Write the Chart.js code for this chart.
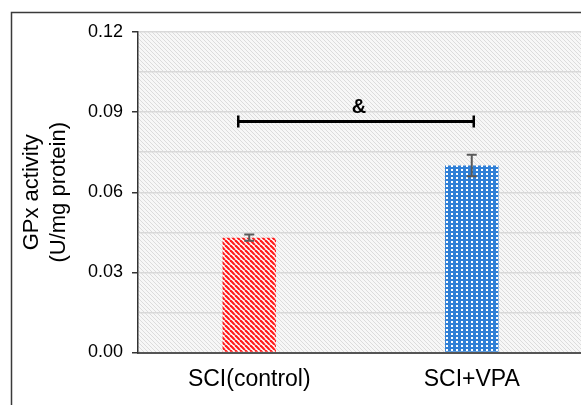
<!DOCTYPE html>
<html>
<head>
<meta charset="utf-8">
<script src="https://cdn.jsdelivr.net/npm/chart.js@4/dist/chart.umd.min.js"></script>
<style>
html,body{margin:0;padding:0;background:#fff;overflow:hidden;}
#wrap{position:relative;width:600px;height:405px;}
</style>
</head>
<body>
<div id="wrap"><canvas id="c" width="600" height="405"></canvas></div>
<script>
// ---- data ----
const categories = ["SCI(control)", "SCI+VPA"];
const values = [0.043, 0.070];
const errors = [0.0012, 0.004];
const yTickValues = [0, 0.03, 0.06, 0.09, 0.12];
const yTitle = ["GPx activity", "(U/mg protein)"];
const sigLabel = "&";
const sigLevel = 0.0865;
const sigPair = [0, 1];

function makePattern(w, h, draw) {
  const c = document.createElement('canvas');
  c.width = w; c.height = h;
  const g = c.getContext('2d');
  draw(g, w, h);
  return document.getElementById('c').getContext('2d').createPattern(c, 'repeat');
}
function diag(g, w, h, color, lw) {
  g.strokeStyle = color; g.lineWidth = lw;
  for (let k = -2; k <= 2; k++) {
    g.beginPath();
    g.moveTo(k * w, 0);
    g.lineTo(k * w + w, h);
    g.stroke();
  }
}
const bgPattern = makePattern(4, 4, (g, w, h) => {
  g.fillStyle = '#f7f7f7'; g.fillRect(0, 0, w, h);
  diag(g, w, h, '#dcdcdc', 1);
});
const redPattern = makePattern(5, 5, (g, w, h) => {
  g.fillStyle = '#ffffff'; g.fillRect(0, 0, w, h);
  diag(g, w, h, '#ff1a1a', 2.2);
});
const bluePattern = makePattern(5, 4, (g, w, h) => {
  g.fillStyle = '#2f7fd6'; g.fillRect(0, 0, w, h);
  g.fillStyle = '#ffffff'; g.fillRect(1, 1, 2, 2);
});

const framePlugin = {
  id: 'frame',
  beforeDraw(chart) {
    const ctx = chart.ctx, a = chart.chartArea;
    ctx.save();
    ctx.fillStyle = '#fff';
    ctx.fillRect(0, 0, chart.width, chart.height);
    ctx.strokeStyle = '#3a3a3a';
    ctx.lineWidth = 1.5;
    ctx.strokeRect(11.5, 12.5, 700, 500);
    ctx.fillStyle = bgPattern;
    ctx.fillRect(a.left, a.top, a.right - a.left, a.bottom - a.top);
    ctx.restore();
  },
  afterDatasetsDraw(chart) {
    const ctx = chart.ctx;
    const xs = chart.scales.x, ys = chart.scales.y;
    ctx.save();
    // error bars
    ctx.strokeStyle = '#5a5a5a';
    ctx.lineWidth = 2;
    values.forEach((v, i) => {
      const x = xs.getPixelForValue(i);
      const yt = ys.getPixelForValue(v + errors[i]);
      const yb = ys.getPixelForValue(v - errors[i]);
      ctx.beginPath();
      ctx.moveTo(x, yt); ctx.lineTo(x, yb);
      ctx.moveTo(x - 5, yt); ctx.lineTo(x + 5, yt);
      ctx.moveTo(x - 5, yb); ctx.lineTo(x + 5, yb);
      ctx.stroke();
    });
    // significance bracket
    const x1 = xs.getPixelForValue(sigPair[0]) - 11;
    const x2 = xs.getPixelForValue(sigPair[1]) + 2;
    const y = ys.getPixelForValue(sigLevel);
    ctx.strokeStyle = '#000';
    ctx.lineWidth = 3;
    ctx.beginPath();
    ctx.moveTo(x1, y); ctx.lineTo(x2, y);
    ctx.stroke();
    ctx.lineWidth = 2.5;
    ctx.beginPath();
    ctx.moveTo(x1, y - 6); ctx.lineTo(x1, y + 6);
    ctx.moveTo(x2, y - 6); ctx.lineTo(x2, y + 6);
    ctx.stroke();
    ctx.fillStyle = '#000';
    ctx.font = 'bold 20px "Liberation Sans", Arial, sans-serif';
    ctx.textAlign = 'center';
    ctx.textBaseline = 'alphabetic';
    ctx.fillText(sigLabel, (x1 + x2) / 2 + 3, y - 8);
    ctx.restore();
  }
};

new Chart(document.getElementById('c'), {
  type: 'bar',
  data: {
    labels: categories,
    datasets: [{
      data: values,
      backgroundColor: [redPattern, bluePattern],
      borderWidth: 0,
      barPercentage: 0.24,
      categoryPercentage: 1.0
    }]
  },
  options: {
    responsive: false,
    animation: false,
    devicePixelRatio: 1,
    layout: { padding: { top: 32, right: 17, bottom: 0, left: 0 } },
    plugins: { legend: { display: false }, tooltip: { enabled: false } },
    scales: {
      x: {
        grid: { display: false, drawTicks: false },
        border: { color: '#555', width: 2 },
        ticks: {
          color: '#000',
          padding: 13,
          font: { family: '"Liberation Sans", Arial, sans-serif', size: 23 }
        },
        afterFit(s) { s.height = 52.5; }
      },
      y: {
        min: 0, max: 0.12,
        afterBuildTicks(s) {
          const t = [];
          for (let i = 0; i <= 8; i++) t.push({ value: +(i * 0.015).toFixed(3) });
          s.ticks = t;
        },
        grid: {
          color: '#d9d9d9',
          lineWidth: 1.5,
          tickLength: 6,
          tickColor: (c) => yTickValues.some(v => Math.abs(v - c.tick.value) < 1e-9) ? '#333' : 'rgba(0,0,0,0)'
        },
        border: { color: '#333', width: 1.5 },
        ticks: {
          color: '#000',
          padding: 9,
          font: { family: '"Liberation Sans", Arial, sans-serif', size: 18 },
          callback: (v) => yTickValues.some(t => Math.abs(t - v) < 1e-9) ? v.toFixed(2) : ''
        },
        title: {
          display: true,
          text: yTitle,
          color: '#000',
          font: { family: '"Liberation Sans", Arial, sans-serif', size: 22 },
          lineHeight: 1.23,
          padding: { top: 19, bottom: 0 }
        },
        afterFit(s) { s.width = 138; }
      }
    }
  },
  plugins: [framePlugin]
});
</script>
</body>
</html>
